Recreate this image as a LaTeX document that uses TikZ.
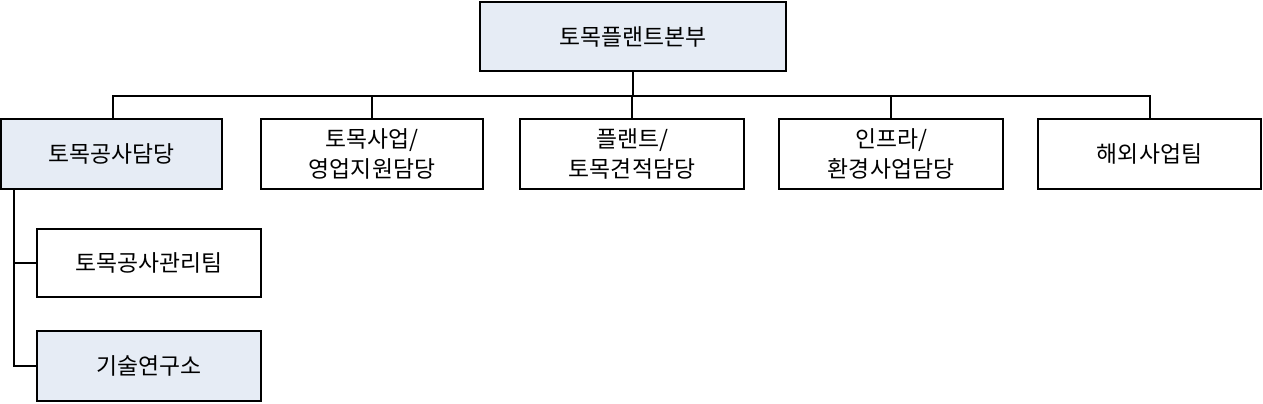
\documentclass[tikz,border=0pt]{standalone}
\usepackage{fontspec}
\setmainfont{Noto Sans CJK KR}
\definecolor{boxfill}{HTML}{E6ECF5}
\begin{document}
\begin{tikzpicture}[x=0.02cm,y=-0.02cm,
  bx/.style={draw=black,line width=1.2pt,inner sep=0pt,align=center,font=\fontsize{13}{17}\selectfont},
  ln/.style={draw=black,line width=1.2pt}]
\useasboundingbox (0,0) rectangle (1263,404);
\newcommand\mybox[6]{\node[bx,#6,minimum width={(#3-#2)*0.02cm},minimum height={(#5-#4)*0.02cm}] (#1) at ({(#2+#3)/2},{(#4+#5)/2}) {};}
\mybox{top}{480}{786}{2}{71}{fill=boxfill}
\mybox{a}{1}{222}{119}{189}{fill=boxfill}
\mybox{b}{261}{483}{119}{189}{fill=white}
\mybox{c}{520}{744}{119}{189}{fill=white}
\mybox{d}{779}{1003}{119}{189}{fill=white}
\mybox{e}{1038}{1261}{119}{189}{fill=white}
\mybox{f}{37}{261}{229}{297}{fill=white}
\mybox{g}{37}{261}{331}{401}{fill=boxfill}
\node[bx,draw=none] at (top) {토목플랜트본부};
\node[bx,draw=none] at (a) {토목공사담당};
\node[bx,draw=none] at (b) {토목사업/\\영업지원담당};
\node[bx,draw=none] at (c) {플랜트/\\토목견적담당};
\node[bx,draw=none] at (d) {인프라/\\환경사업담당};
\node[bx,draw=none] at (e) {해외사업팀};
\node[bx,draw=none] at (f) {토목공사관리팀};
\node[bx,draw=none] at (g) {기술연구소};
\coordinate (h) at (633,96);
\draw[ln] (top.south) -- (h);
\draw[ln] (a.north -| 113,0) -- (113,96) -- (1150,96) -- (e.north -| 1150,0);
\draw[ln] (b.north) -- (b.north |- h);
\draw[ln] (c.north) -- (c.north |- h);
\draw[ln] (d.north) -- (d.north |- h);
\draw[ln] (a.south -| 14,0) -- (14,366) -- (g.west);
\draw[ln] (14,263) -- (f.west);
\end{tikzpicture}
\end{document}
